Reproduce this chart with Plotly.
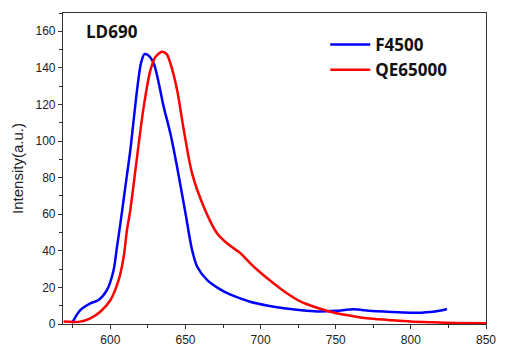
import plotly.graph_objects as go

# F4500 (blue)
f4500_x = [574.4, 580, 586.7, 592.2, 597.8, 602.2, 604.4, 606.7, 610, 613.3, 617.8, 620.5, 622.7, 625, 628.9, 635.5, 640, 644.4, 650, 654.4, 657.8, 664.5, 672, 680, 693, 705, 715.5, 727, 737.8, 750, 762, 772, 782, 792, 800, 807, 813, 819, 824]
f4500_y = [0.4, 7.6, 11.3, 13.1, 18.6, 29.5, 42, 55, 75, 95, 128, 143, 147.5, 147, 142.4, 118.7, 104, 86, 60.5, 40.4, 31.3, 24, 19.5, 16, 12.2, 10, 8.6, 7.5, 6.9, 7.2, 8, 7.3, 6.8, 6.4, 6.2, 6.2, 6.5, 7.2, 8.2]

# QE65000 (red)
qe_x = [568.9, 580, 586.7, 593.3, 600, 605.5, 608.9, 611, 613.3, 617.8, 622.2, 626.7, 630, 634.4, 637.5, 640, 644.4, 648.9, 654.4, 662.2, 671, 677.8, 686.7, 693.3, 700, 709, 718, 726.7, 737, 749, 760, 771, 785, 800, 815, 830, 850]
qe_y = [1.3, 1.3, 3.1, 6.7, 13, 24, 36.8, 51, 62.3, 91.4, 118.7, 138.8, 146, 148.8, 147.5, 142.4, 128, 106, 82.3, 64, 49.6, 44, 38.6, 33, 28, 22, 16.5, 12.2, 9, 6.2, 4.5, 3.1, 2.2, 1.3, 0.9, 0.6, 0.4]

x_ticks = [600, 650, 700, 750, 800, 850]
y_ticks = [0, 20, 40, 60, 80, 100, 120, 140, 160]

fig = go.Figure()
fig.add_trace(go.Scatter(x=f4500_x, y=f4500_y, mode="lines", name="F4500",
                         line=dict(color="#0000ff", width=2.5, shape="spline", smoothing=0.8)))
fig.add_trace(go.Scatter(x=qe_x, y=qe_y, mode="lines", name="QE65000",
                         line=dict(color="#ff0000", width=2.5, shape="spline", smoothing=0.8)))

axis_common = dict(showgrid=False, zeroline=False, showline=True, linecolor="#333333",
                   linewidth=1.2, mirror=True, ticks="outside", ticklen=4, automargin=False,
                   tickcolor="#333333", tickfont=dict(family="Liberation Sans, Arial", size=12, color="#222222"))

fig.update_xaxes(range=[568.5, 850], tickvals=x_ticks,
                 minor=dict(dtick=25, tick0=0, ticks="outside", ticklen=3, tickcolor="#333333"),
                 **axis_common)
fig.update_yaxes(range=[0, 170], tickvals=y_ticks,
                 minor=dict(dtick=10, tick0=0, ticks="outside", ticklen=3, tickcolor="#333333"),
                 title=dict(text="Intensity(a.u.)", font=dict(family="Liberation Sans, Arial", size=15, color="#222222"), standoff=8),
                 **axis_common)

fig.add_annotation(text="<b>LD690</b>", xref="paper", yref="paper", x=0.05, y=0.94,
                   xanchor="left", yanchor="middle", showarrow=False,
                   font=dict(family="Open Sans, Lato", size=17, color="#111111"))

fig.update_layout(
    width=505, height=352,
    margin=dict(l=63, r=19, t=13, b=28),
    plot_bgcolor="white", paper_bgcolor="white",
    showlegend=True,
    legend=dict(x=0.62, y=0.955, xanchor="left", yanchor="top",
                font=dict(family="Open Sans, Lato", size=17, color="#111111", weight="bold"),
                bgcolor="rgba(0,0,0,0)", itemwidth=40, tracegroupgap=0),
)

fig.write_html("out.html")
